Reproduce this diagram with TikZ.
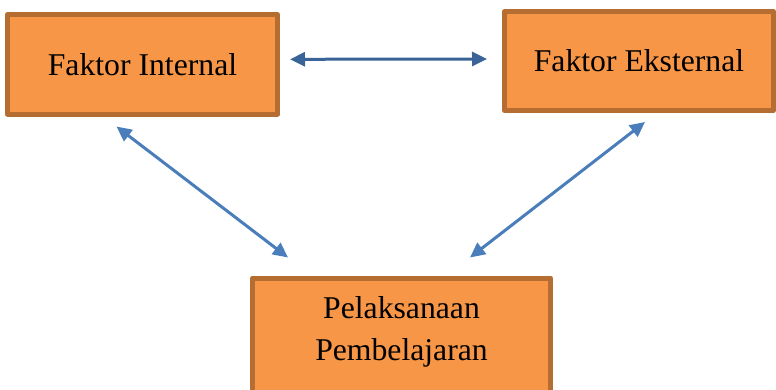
\documentclass[tikz,border=0pt]{standalone}
\usepackage{fontspec}
\setmainfont{Liberation Serif}
\usetikzlibrary{arrows.meta}
\definecolor{boxfill}{HTML}{F79646}
\definecolor{boxline}{HTML}{B66D31}
\definecolor{darkblue}{HTML}{3A6497}
\definecolor{lightblue}{HTML}{4A7EBB}
\begin{document}
\begin{tikzpicture}[x=1pt,y=-1pt,line join=round,
	font=\fontsize{31.7}{42}\selectfont,
	faktor/.style={draw=boxline,fill=boxfill,line width=5pt,inner sep=0pt},
	dblarrow/.style={line width=3pt,{Triangle[length=15pt,width=14pt]}-{Triangle[length=15pt,width=14pt]}}]
	\clip (0,0) rectangle (776,389);
	\node[faktor,minimum width=270pt,minimum height=99.5pt] (fi) at (142.5,64.3) {Faktor Internal};
	\node[faktor,minimum width=269pt,minimum height=99pt] (fe) at (639,61) {Faktor Eksternal};
	\node[faktor,minimum width=298pt,minimum height=140pt,anchor=north] (pel) at (401.5,275.5) {};
	\node[align=center,inner sep=0pt] (pelText) at (401.5,331.5) {Pelaksanaan\\Pembelajaran};
	% panah antar faktor
	\draw[dblarrow,darkblue] ([shift={(10,-5)}]fi.east)--([shift={(-15,-2)}]fe.west);
	\draw[dblarrow,lightblue] ([shift={(-26,10)}]fi.south)--([shift={(-113.5,-18)}]pel.north);
	\draw[dblarrow,lightblue] ([shift={(6,9)}]fe.south)--([shift={(68.5,-18)}]pel.north);
\end{tikzpicture}
\end{document}
